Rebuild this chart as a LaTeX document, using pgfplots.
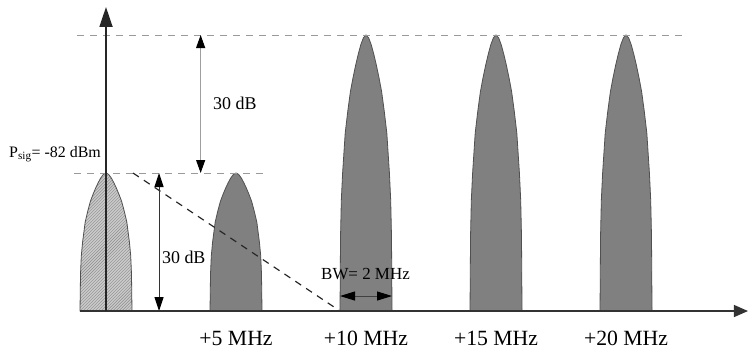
\documentclass[border=0pt]{standalone}
\usepackage{fontspec}
\setmainfont{Liberation Serif}
\usepackage{pgfplots}
\pgfplotsset{compat=1.18}
\usetikzlibrary{arrows.meta,patterns}
\definecolor{lobe}{HTML}{808080}
\definecolor{lobeedge}{HTML}{505050}
\definecolor{siglobe}{HTML}{CACACA}
\definecolor{dashgray}{HTML}{9A9A9A}
\begin{document}
\begin{tikzpicture}
\begin{axis}[
  x=26bp, y=4.6bp,
  xmin=-1, xmax=24.69, ymin=0, ymax=66.09,
  axis lines=middle,
  axis on top=true,
  clip=false,
  x axis line style={line width=1.3bp, draw=black!80, -{Triangle[length=14bp,width=12bp]}},
  y axis line style={line width=1.8bp, draw=black!85, -{Triangle[length=20bp,width=13bp]}},
  xtick={5,10,15,20},
  xticklabels={+5 MHz,+10 MHz,+15 MHz,+20 MHz},
  ytick=\empty,
  major tick length=0pt,
  xticklabel style={anchor=base, inner sep=0pt, yshift=-34bp, font=\fontsize{21.8}{25}\selectfont},
]
\path (axis cs:-4.077,-8.913) rectangle (axis cs:24.73,67.61);
% signal lobe (hatched)
\addplot [fill=siglobe, draw=none] coordinates {(-1,0) (-0.98,8.1) (-0.95,12) (-0.9,15) (-0.8,19.35) (-0.7,21.75) (-0.6,23.85) (-0.5,25.35) (-0.4,26.7) (-0.3,27.9) (-0.2,28.95) (-0.1,29.7) (0,30) (0.1,29.7) (0.2,28.95) (0.3,27.9) (0.4,26.7) (0.5,25.35) (0.6,23.85) (0.7,21.75) (0.8,19.35) (0.9,15) (0.95,12) (0.98,8.1) (1,0)} -- cycle;
\addplot [pattern=north east lines, pattern color=black!45, draw=lobeedge, line width=0.8bp] coordinates {(-1,0) (-0.98,8.1) (-0.95,12) (-0.9,15) (-0.8,19.35) (-0.7,21.75) (-0.6,23.85) (-0.5,25.35) (-0.4,26.7) (-0.3,27.9) (-0.2,28.95) (-0.1,29.7) (0,30) (0.1,29.7) (0.2,28.95) (0.3,27.9) (0.4,26.7) (0.5,25.35) (0.6,23.85) (0.7,21.75) (0.8,19.35) (0.9,15) (0.95,12) (0.98,8.1) (1,0)} -- cycle;
% +5 MHz
\addplot [fill=lobe, draw=lobeedge, line width=0.8bp] coordinates {(4,0) (4.02,8.1) (4.05,12) (4.1,15) (4.2,19.35) (4.3,21.75) (4.4,23.85) (4.5,25.35) (4.6,26.7) (4.7,27.9) (4.8,28.95) (4.9,29.7) (5,30) (5.1,29.7) (5.2,28.95) (5.3,27.9) (5.4,26.7) (5.5,25.35) (5.6,23.85) (5.7,21.75) (5.8,19.35) (5.9,15) (5.95,12) (5.98,8.1) (6,0)} -- cycle;
% +10 MHz
\addplot [fill=lobe, draw=lobeedge, line width=0.8bp] coordinates {(9,0) (9.02,16.2) (9.05,24) (9.1,30) (9.2,38.7) (9.3,43.5) (9.4,47.7) (9.5,50.7) (9.6,53.4) (9.7,55.8) (9.8,57.9) (9.9,59.4) (10,60) (10.1,59.4) (10.2,57.9) (10.3,55.8) (10.4,53.4) (10.5,50.7) (10.6,47.7) (10.7,43.5) (10.8,38.7) (10.9,30) (10.95,24) (10.98,16.2) (11,0)} -- cycle;
% +15 MHz
\addplot [fill=lobe, draw=lobeedge, line width=0.8bp] coordinates {(14,0) (14.02,16.2) (14.05,24) (14.1,30) (14.2,38.7) (14.3,43.5) (14.4,47.7) (14.5,50.7) (14.6,53.4) (14.7,55.8) (14.8,57.9) (14.9,59.4) (15,60) (15.1,59.4) (15.2,57.9) (15.3,55.8) (15.4,53.4) (15.5,50.7) (15.6,47.7) (15.7,43.5) (15.8,38.7) (15.9,30) (15.95,24) (15.98,16.2) (16,0)} -- cycle;
% +20 MHz
\addplot [fill=lobe, draw=lobeedge, line width=0.8bp] coordinates {(19,0) (19.02,16.2) (19.05,24) (19.1,30) (19.2,38.7) (19.3,43.5) (19.4,47.7) (19.5,50.7) (19.6,53.4) (19.7,55.8) (19.8,57.9) (19.9,59.4) (20,60) (20.1,59.4) (20.2,57.9) (20.3,55.8) (20.4,53.4) (20.5,50.7) (20.6,47.7) (20.7,43.5) (20.8,38.7) (20.9,30) (20.95,24) (20.98,16.2) (21,0)} -- cycle;
% reference dashed lines
\addplot [dashgray, line width=1bp, dash pattern=on 7bp off 6bp] coordinates {(-1.115,60) (22.15,60)};
\addplot [dashgray, line width=1bp, dash pattern=on 7bp off 6bp] coordinates {(-1.23,30) (6.19,30)};
\addplot [black!85, line width=1.2bp, dash pattern=on 7bp off 6bp] coordinates {(1.04,30) (9,0)};
% dimension arrows
\draw [gray!75, line width=1bp, {Triangle[length=13bp,width=9bp,color=black]}-{Triangle[length=13bp,width=9bp,color=black]}] (axis cs:3.64,60) -- (axis cs:3.64,30);
\draw [black!80, line width=1bp, {Triangle[length=14bp,width=9bp,color=black]}-{Triangle[length=14bp,width=9bp,color=black]}] (axis cs:2.04,30) -- (axis cs:2.04,0);
\draw [black!75, line width=1bp, {Triangle[length=15bp,width=9bp,color=black]}-{Triangle[length=15bp,width=9bp,color=black]}] (axis cs:9,3.26) -- (axis cs:11,3.26);
% texts
\node [anchor=west, inner sep=0pt, font=\fontsize{18}{21}\selectfont] at (axis cs:4.115,45.2) {30 dB};
\node [anchor=west, inner sep=0pt, font=\fontsize{18}{21}\selectfont] at (axis cs:2.15,11.74) {30 dB};
\node [inner sep=0pt, font=\fontsize{17}{20}\selectfont] at (axis cs:9.98,8.04) {BW= 2 MHz};
\node [anchor=base west, inner sep=0pt, font=\fontsize{16}{19}\selectfont] at (axis cs:-3.73,33.48) {P\textsubscript{sig}= -82 dBm};
\end{axis}
\end{tikzpicture}
\end{document}
